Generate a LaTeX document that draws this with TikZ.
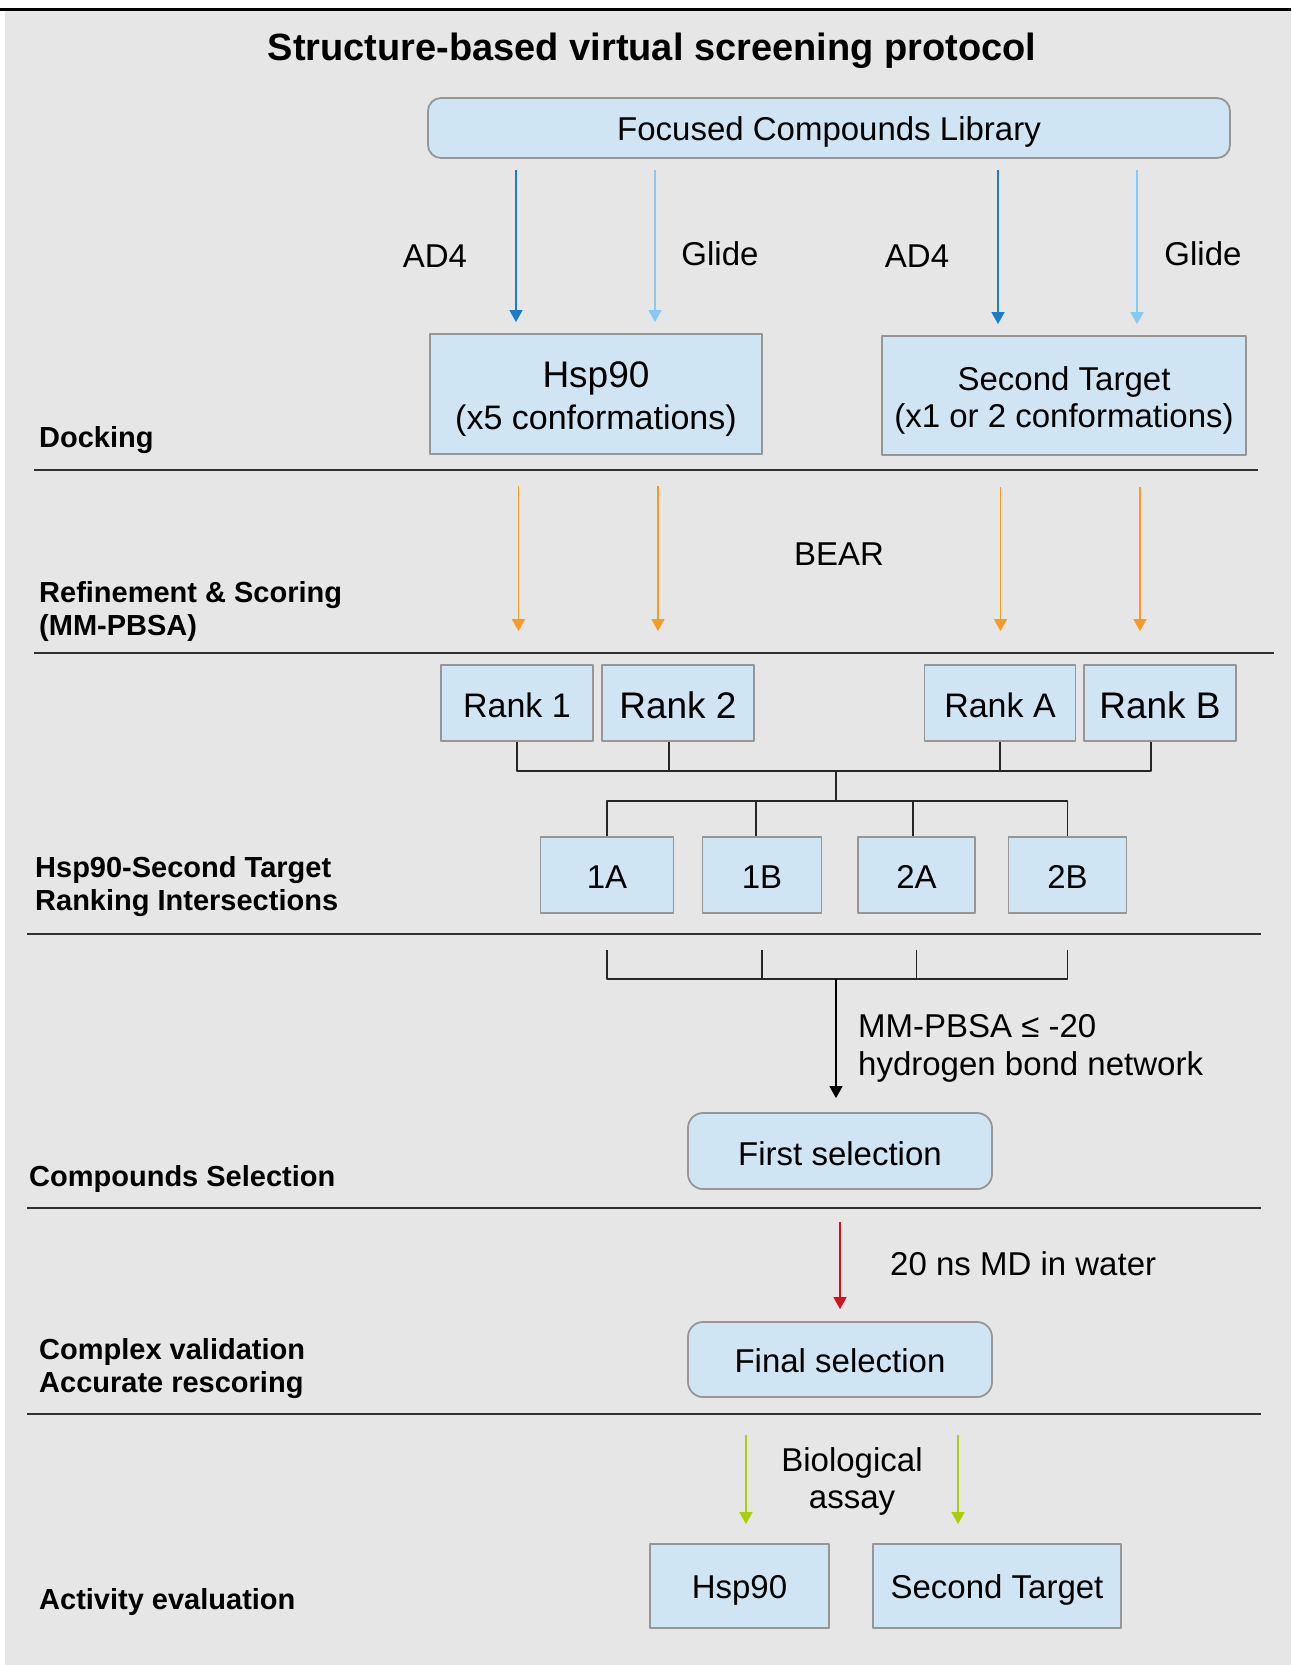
\documentclass[tikz,border=0pt]{standalone}
\usepackage{fontspec}
\setmainfont{Liberation Sans}
\usepackage{tikz}
\usetikzlibrary{arrows.meta,calc,positioning}
\definecolor{panel}{HTML}{E6E6E6}
\definecolor{boxfill}{HTML}{CFE5F3}
\definecolor{boxline}{HTML}{969696}
\definecolor{rule}{HTML}{303030}
\definecolor{adblue}{HTML}{1B7DC6}
\definecolor{glideblue}{HTML}{88C9F4}
\definecolor{bearorange}{HTML}{F89B24}
\definecolor{mdred}{HTML}{D3121C}
\definecolor{assaygreen}{HTML}{A8CF0A}
% size in px, optional baseline skip
\newcommand{\pxfont}[2][40]{\fontsize{#2}{#1}\selectfont}
\tikzset{
  every picture/.style={line join=round, >=Stealth},
  box/.style={draw=boxline, fill=boxfill, line width=1.8pt, inner sep=0pt, align=center, font={\pxfont{33}}},
  sbox/.style={box, text height=#1, text depth=0pt},
  sbox/.default=27.5pt,
  rbox/.style={sbox=#1, rounded corners=13pt},
  rbox/.default=27.5pt,
  phase/.style={anchor=west, align=left, inner sep=0pt, font={\bfseries\pxfont[33]{29}}},
  lbl/.style={inner sep=0pt, font={\pxfont[37]{33}}},
  flow/.style={line width=1.5pt, -{Triangle[width=13pt,length=12pt]}},
  link/.style={line width=1.7pt, draw=black!85},
  sep/.style={line width=2.2pt, draw=rule},
}

\begin{document}
\begin{tikzpicture}[x=1pt,y=-1pt]
\useasboundingbox (0,0) rectangle (1291,1665);
\fill[white] (0,0) rectangle (1291,1665);
\fill[panel] (5,10) rectangle (1291,1665);
\draw[line width=2.4pt] (0,9.5) -- (1291,9.5);

\node[font={\bfseries\pxfont{38}}, anchor=base] (title) at (652,60) {Structure-based virtual screening protocol};

% phase rules and names
\foreach \y/\a/\b in {470/34/1258, 653/34/1274, 934/27/1261, 1208/27/1261, 1414/27/1261}
  \draw[sep] (\a,\y) -- (\b,\y);
\node[phase] (pdock) at (39,440) {Docking};
\node[phase] (prefine) at (39,611) {Refinement \& Scoring\\(MM-PBSA)};
\node[phase] (prank) at (35,887) {Hsp90-Second Target\\Ranking Intersections};
\node[phase] (psel) at (29,1179) {Compounds Selection};
\node[phase] (pvalid) at (39,1369) {Complex validation\\Accurate rescoring};
\node[phase] (pact) at (39,1602) {Activity evaluation};

% docking
\node[rbox=25pt, minimum width=802pt, minimum height=60pt] (lib) at (829,128) {Focused Compounds Library};
\node[box, minimum width=332pt, minimum height=120pt, font={\pxfont[42]{34}}, text height=78pt] (hsp) at (596,394) {{\pxfont[42]{37}Hsp90}\\(x5 conformations)};
\node[box, minimum width=364pt, minimum height=119pt, font={\pxfont[37]{33}}, text height=70pt] (sec) at (1064,395.5) {Second Target\\(x1 or 2 conformations)};

\coordinate (h1) at ($(hsp.north)+(-80,0)$);
\coordinate (h2) at ($(hsp.north)+(59,0)$);
\coordinate (s1) at ($(sec.north)+(-66,0)$);
\coordinate (s2) at ($(sec.north)+(73,0)$);
\draw[flow, adblue, shorten <=11pt, shorten >=11pt] (h1 |- lib.south) -- (h1);
\draw[flow, glideblue, shorten <=11pt, shorten >=11pt] (h2 |- lib.south) -- (h2);
\draw[flow, adblue, shorten <=11pt, shorten >=11pt] (s1 |- lib.south) -- (s1);
\draw[flow, glideblue, shorten <=11pt, shorten >=11pt] (s2 |- lib.south) -- (s2);
\node[lbl, anchor=base] (ad4h) at (435,267) {AD4};
\node[lbl, anchor=base] (glh) at (720,265) {Glide};
\node[lbl, anchor=base] (ad4s) at (917,267) {AD4};
\node[lbl, anchor=base] (gls) at (1203,265) {Glide};

% rescoring
\node[sbox=28.5pt, minimum width=152pt, minimum height=76pt, font={\pxfont{34}}] (r1) at (517,703) {Rank 1};
\node[sbox=30.5pt, minimum width=152pt, minimum height=76pt, font={\pxfont{37}}] (r2) at (678,703) {Rank 2};
\node[sbox=28.5pt, minimum width=151pt, minimum height=76pt, font={\pxfont{34}}] (rA) at (1000,703) {Rank A};
\node[sbox=30.5pt, minimum width=152pt, minimum height=76pt, font={\pxfont{37}}] (rB) at (1160,703) {Rank B};

\coordinate (o1) at ($(h1)+(2.5,0)$);
\coordinate (o2) at ($(h2)+(3,0)$);
\coordinate (o3) at ($(s1)+(2.5,0)$);
\coordinate (o4) at ($(s2)+(3,0)$);
\draw[flow, bearorange, shorten <=31pt, shorten >=33pt] (o1 |- hsp.south) -- (o1 |- r1.north);
\draw[flow, bearorange, shorten <=31pt, shorten >=33pt] (o2 |- hsp.south) -- (o2 |- r2.north);
\draw[flow, bearorange, shorten <=31pt, shorten >=33pt] (o3 |- sec.south) -- (o3 |- rA.north);
\draw[flow, bearorange, shorten <=31pt, shorten >=33pt] (o4 |- sec.south) -- (o4 |- rB.north);
\node[lbl, anchor=base] (bear) at (839,565) {BEAR};

% intersections
\node[sbox, minimum width=133pt, minimum height=76pt] (i1) at (607,875) {1A};
\node[sbox, minimum width=119pt, minimum height=76pt] (i2) at (762,875) {1B};
\node[sbox, minimum width=117pt, minimum height=76pt] (i3) at (916.5,875) {2A};
\node[sbox, minimum width=118pt, minimum height=76pt] (i4) at (1067.5,875) {2B};

\coordinate (j1) at (836,771);
\coordinate (j2) at (836,801);
\coordinate (d2) at ($(r2.south)+(-9,0)$);
\coordinate (dB) at ($(rB.south)+(-9,0)$);
\coordinate (e2) at ($(i2.north)+(-6,0)$);
\coordinate (e3) at ($(i3.north)+(-3.5,0)$);
\draw[link] (r1.south) |- (j1) -| (dB);
\draw[link] (d2) -- (d2 |- j1);
\draw[link] (rA.south) -- (rA.south |- j1);
\draw[link] (j1) -- (j2);
\draw[link] (i1.north) |- (j2) -| (i4.north);
\draw[link] (e2) -- (e2 |- j2);
\draw[link] (e3) -- (e3 |- j2);

% selection
\node[rbox=28pt, rounded corners=15pt, minimum width=304pt, minimum height=76pt] (fs) at (840,1151) {First selection};
\foreach \n in {1,...,4}
  \coordinate (b\n) at ($(i\n.south)+(0,36)$);
\coordinate (j3) at (836,979);
\draw[link] (b1) |- (j3) -| (b4);
\draw[link] (b2) -- (b2 |- j3);
\draw[link] (b3) -- (b3 |- j3);
\draw[flow, black, shorten >=14pt] (j3) -- (j3 |- fs.north);
\node[lbl, anchor=west, align=left, font={\pxfont[38]{33}}] (crit) at (858,1048) {MM-PBSA ≤ -20\\hydrogen bond network};

% validation
\node[rbox=26pt, rounded corners=15pt, minimum width=304pt, minimum height=75pt] (fin) at (840,1359.5) {Final selection};
\draw[flow, mdred, shorten <=32pt, shorten >=12pt] (fs.south) -- (fin.north);
\node[lbl, anchor=base west] (md) at (890,1275) {20 ns MD in water};

% assay
\node[sbox=24pt, minimum width=179pt, minimum height=84pt] (bhsp) at (739.5,1586) {Hsp90};
\node[sbox=24pt, minimum width=248pt, minimum height=84pt] (bsec) at (997,1586) {Second Target};
\coordinate (g1) at ($(bhsp.north)+(6.5,0)$);
\coordinate (g2) at ($(bsec.north)+(-39,0)$);
\draw[flow, assaygreen, shorten <=37pt, shorten >=19pt] (g1 |- fin.south) -- (g1);
\draw[flow, assaygreen, shorten <=37pt, shorten >=19pt] (g2 |- fin.south) -- (g2);
\node[lbl, align=center] (bio) at (852,1481) {Biological\\assay};
\end{tikzpicture}
\end{document}
